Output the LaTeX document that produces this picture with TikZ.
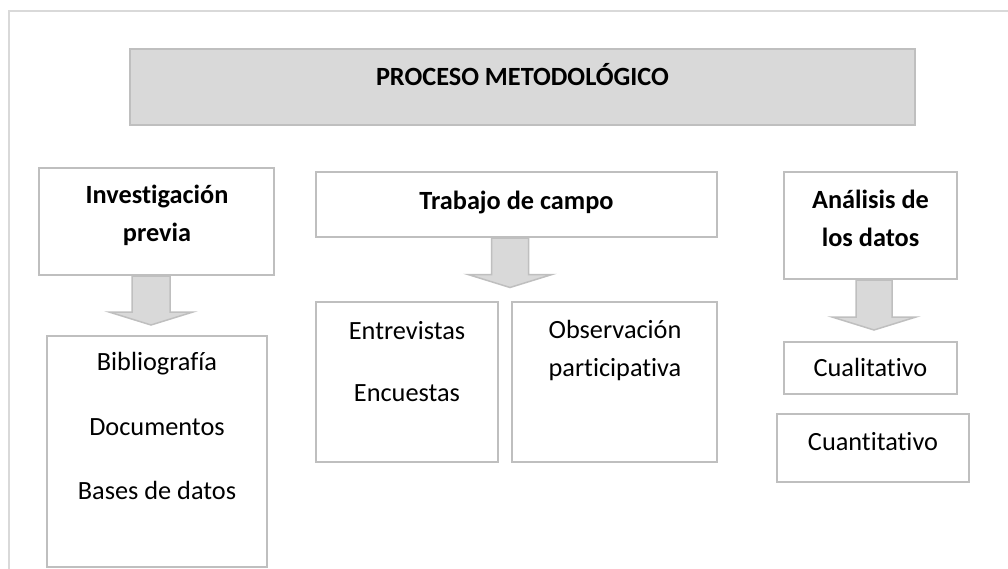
\documentclass[tikz,border=0pt]{standalone}
\usepackage{fontspec}
\setmainfont{Carlito}[Ligatures=NoCommon]
\definecolor{framegray}{HTML}{D9D9D9}
\definecolor{boxgray}{HTML}{BFBFBF}
\definecolor{fillgray}{HTML}{D9D9D9}
\newcommand{\blockarr}[6]{% cx, ytop, yhead, ytip, shafthalf, headhalf
  \draw[arrowshape] (#1-#5,#2) -- (#1+#5,#2) -- (#1+#5,#3) -- (#1+#6,#3) -- (#1,#4) -- (#1-#6,#3) -- (#1-#5,#3) -- cycle;}
\tikzset{
  box/.style={draw=boxgray, line width=2pt, fill=white, inner sep=0pt, outer sep=0pt},
  titlebox/.style={draw=boxgray, line width=2.5pt, fill=fillgray, inner sep=0pt, outer sep=0pt},
  arrowshape/.style={draw=boxgray, line width=1.5pt, fill=fillgray, line join=miter},
  txt/.style={inner sep=0pt, outer sep=0pt, anchor=base, text=black, font=\fontsize{26.3pt}{37pt}\selectfont},
  btxt/.style={txt, font=\fontsize{26.3pt}{37pt}\selectfont\bfseries},
}
\begin{document}
\begin{tikzpicture}[x=1pt, y=-1pt]
\useasboundingbox (0,0) rectangle (1008,569);
% outer frame
\draw[framegray, line width=2pt] (9,569) -- (9,11) -- (1008,11);
% title
\node[titlebox, minimum width=785pt, minimum height=76pt] (title) at (522.5,87) {};
\node[btxt] (titletxt) at (522.5,86) {PROCESO METODOLÓGICO};
% column 1
\node[box, minimum width=235pt, minimum height=107pt] (inv) at (156.5,221.5) {};
\node[btxt] (inv1) at (157,204) {Investigación};
\node[btxt] (inv2) at (157,241) {previa};
\node[box, minimum width=220pt, minimum height=231pt] (bib) at (157,451.5) {};
\node[txt] (bib1) at (157,370) {Bibliografía};
\node[txt] (bib2) at (157,435) {Documentos};
\node[txt] (bib3) at (157,499) {Bases de datos};
\blockarr{151}{276}{312}{325}{19}{42}
% column 2
\node[box, minimum width=401pt, minimum height=65pt] (tra) at (516.5,204.5) {};
\node[btxt] (tratxt) at (516.5,210) {Trabajo de campo};
\blockarr{510}{238}{274.5}{287.5}{18.5}{42}
\node[box, minimum width=182pt, minimum height=160pt] (ent) at (407,382) {};
\node[txt] (ent1) at (407,339) {Entrevistas};
\node[txt] (ent2) at (407,401) {Encuestas};
\node[box, minimum width=205pt, minimum height=160pt] (obs) at (614.5,382) {};
\node[txt] (obs1) at (615,338) {Observación};
\node[txt] (obs2) at (615,376) {participativa};
% column 3
\node[box, minimum width=173pt, minimum height=107pt] (ana) at (870.5,225.5) {};
\node[btxt] (ana1) at (870.5,209) {Análisis de};
\node[btxt] (ana2) at (870.5,246) {los datos};
\blockarr{874}{280}{317}{330}{18}{42}
\node[box, minimum width=173pt, minimum height=52pt] (cual) at (870.5,368) {};
\node[txt] (cualtxt) at (870.5,376) {Cualitativo};
\node[box, minimum width=192pt, minimum height=68pt] (cuan) at (873,448) {};
\node[txt] (cuantxt) at (873,450) {Cuantitativo};
\end{tikzpicture}
\end{document}
